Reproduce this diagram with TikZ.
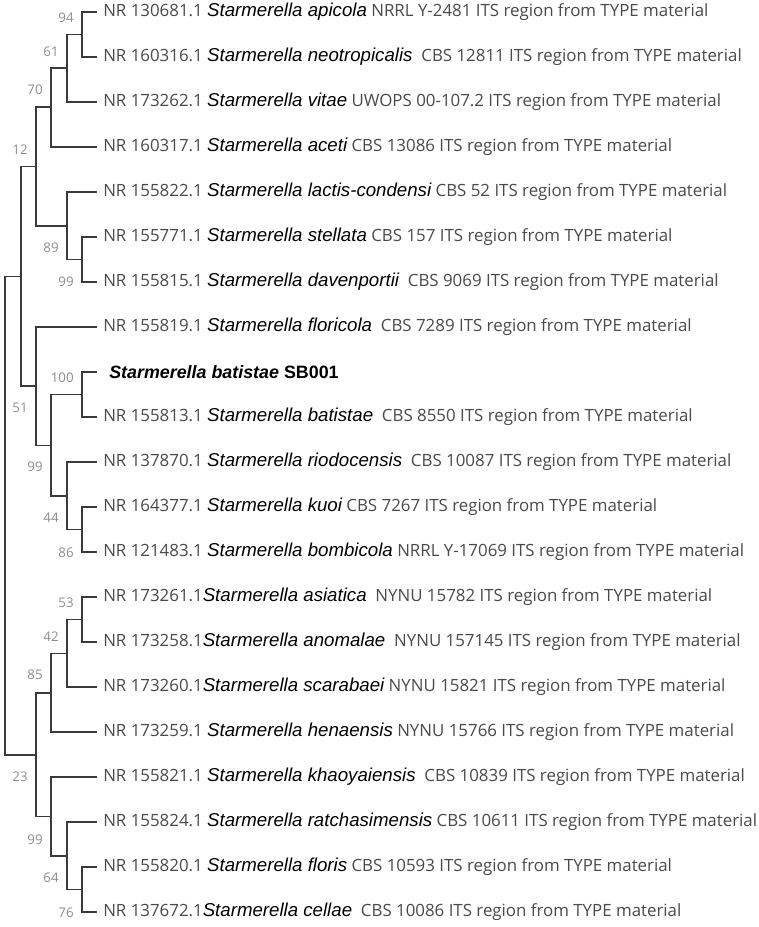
\documentclass[tikz,border=0pt]{standalone}
\usepackage{fontspec}
\setmainfont{Open Sans}
\newfontfamily\spfont{Liberation Sans}
\usetikzlibrary{positioning}
\definecolor{Branch}{HTML}{3A3A3A}
\definecolor{Tip}{HTML}{4A4A4A}
\definecolor{Boot}{HTML}{8E8E8E}
\newcommand{\spname}[1]{{\spfont\itshape\fontsize{14}{15}\selectfont\color{black}#1}}
\newcommand{\taxon}[3]{#1 \spname{#2} #3}

\begin{document}
\begin{tikzpicture}[x=0.75pt,y=-0.75pt,branch/.style={draw=Branch,line width=1pt},tip/.style={anchor=west,inner xsep=4.5pt,inner ysep=0pt,text=Tip,font=\fontsize{12.65}{15}\selectfont},boot/.style={anchor=east,inner sep=0pt,text=Boot,font=\fontsize{10}{11}\selectfont}]
\useasboundingbox[fill=white] (0,0) rectangle (759,927);
% tips
\node[tip] (apicola) at (97,12) {\taxon{NR 130681.1}{Starmerella apicola}{NRRL Y-2481 ITS region from TYPE material}};
\node[tip] (neotrop) at (97,57) {\taxon{NR 160316.1}{Starmerella neotropicalis}{\ CBS 12811 ITS region from TYPE material}};
\node[tip] (vitae) at (97,102) {\taxon{NR 173262.1}{Starmerella vitae}{UWOPS 00-107.2 ITS region from TYPE material}};
\node[tip] (aceti) at (97,147) {\taxon{NR 160317.1}{Starmerella aceti}{CBS 13086 ITS region from TYPE material}};
\node[tip] (lactis) at (97,192) {\taxon{NR 155822.1}{Starmerella lactis-condensi}{CBS 52 ITS region from TYPE material}};
\node[tip] (stellata) at (97,237) {\taxon{NR 155771.1}{Starmerella stellata}{CBS 157 ITS region from TYPE material}};
\node[tip] (davenp) at (97,282) {\taxon{NR 155815.1}{Starmerella davenportii}{\ CBS 9069 ITS region from TYPE material}};
\node[tip] (floricola) at (97,327) {\taxon{NR 155819.1}{Starmerella floricola}{\ CBS 7289 ITS region from TYPE material}};
\node[tip,inner xsep=9pt,text=black,font=\fontsize{13.4}{15}\selectfont] (sb001) at (97,372) {\spfont\bfseries\textit{Starmerella batistae} SB001};
\node[tip] (batistae) at (97,417) {\taxon{NR 155813.1}{Starmerella batistae}{\ CBS 8550 ITS region from TYPE material}};
\node[tip] (riodoc) at (97,462) {\taxon{NR 137870.1}{Starmerella riodocensis}{\ CBS 10087 ITS region from TYPE material}};
\node[tip] (kuoi) at (97,507) {\taxon{NR 164377.1}{Starmerella kuoi}{CBS 7267 ITS region from TYPE material}};
\node[tip] (bombic) at (97,552) {\taxon{NR 121483.1}{Starmerella bombicola}{NRRL Y-17069 ITS region from TYPE material}};
\node[tip] (asiatica) at (97,597) {NR 173261.1\spname{Starmerella asiatica} \ NYNU 15782 ITS region from TYPE material};
\node[tip] (anomalae) at (97,642) {NR 173258.1\spname{Starmerella anomalae} \ NYNU 157145 ITS region from TYPE material};
\node[tip] (scarab) at (97,687) {NR 173260.1\spname{Starmerella scarabaei} NYNU 15821 ITS region from TYPE material};
\node[tip] (henaen) at (97,732) {\taxon{NR 173259.1}{Starmerella henaensis}{NYNU 15766 ITS region from TYPE material}};
\node[tip] (khaoyai) at (97,777) {\taxon{NR 155821.1}{Starmerella khaoyaiensis}{\ CBS 10839 ITS region from TYPE material}};
\node[tip] (ratchas) at (97,822) {\taxon{NR 155824.1}{Starmerella ratchasimensis}{CBS 10611 ITS region from TYPE material}};
\node[tip] (floris) at (97,867) {\taxon{NR 155820.1}{Starmerella floris}{CBS 10593 ITS region from TYPE material}};
\node[tip] (cellae) at (97,912) {NR 137672.1\spname{Starmerella cellae} \ CBS 10086 ITS region from TYPE material};
% inner nodes
\coordinate (n94) at (82,34.5);\coordinate (n61) at (67,68);\coordinate (n70) at (51,107);\coordinate (n12) at (36,166.5);
\coordinate (n99a) at (82,259.5);\coordinate (n89) at (67,226);\coordinate (nA) at (21,276.5);
\coordinate (n100) at (82,394.5);\coordinate (n86) at (82,529.5);\coordinate (n44) at (67,496);\coordinate (n99b) at (51,445.5);\coordinate (n51) at (36,386);
\coordinate (n53) at (82,619.5);\coordinate (n42) at (67,653.5);\coordinate (n85) at (51,693);
\coordinate (n76) at (82,889.5);\coordinate (n64) at (67,856);\coordinate (n99c) at (51,816.5);\coordinate (n23) at (36,755);
\coordinate (root) at (5,515.75);
\foreach \p/\c in {n94/apicola,n94/neotrop,n61/n94,n61/vitae,n70/n61,n70/aceti,n99a/stellata,n99a/davenp,n89/lactis,n89/n99a,n12/n70,n12/n89,
  n100/sb001,n100/batistae,n86/kuoi,n86/bombic,n44/riodoc,n44/n86,n99b/n100,n99b/n44,n51/floricola,n51/n99b,nA/n12,nA/n51,
  n53/asiatica,n53/anomalae,n42/n53,n42/scarab,n85/n42,n85/henaen,n76/floris,n76/cellae,n64/ratchas,n64/n76,n99c/khaoyai,n99c/n64,n23/n85,n23/n99c,
  root/nA,root/n23}
  \draw[branch] (\p) |- (\c);
% bootstrap values
\node[boot] (b94) at (74,18) {94};\node[boot] (b61) at (59,52) {61};\node[boot] (b70) at (43,90) {70};\node[boot] (b12) at (28,150) {12};
\node[boot] (b89) at (59,248) {89};\node[boot] (b99a) at (74,282) {99};
\node[boot] (b100) at (74,378) {100};\node[boot] (b51) at (28,408) {51};\node[boot] (b99b) at (43,467) {99};\node[boot] (b44) at (59,518) {44};\node[boot] (b86) at (74,553) {86};
\node[boot] (b53) at (74,603) {53};\node[boot] (b42) at (59,637) {42};\node[boot] (b85) at (43,675) {85};
\node[boot] (b23) at (28,777) {23};\node[boot] (b99c) at (43,840) {99};\node[boot] (b64) at (59,878) {64};\node[boot] (b76) at (74,913) {76};
\end{tikzpicture}
\end{document}
